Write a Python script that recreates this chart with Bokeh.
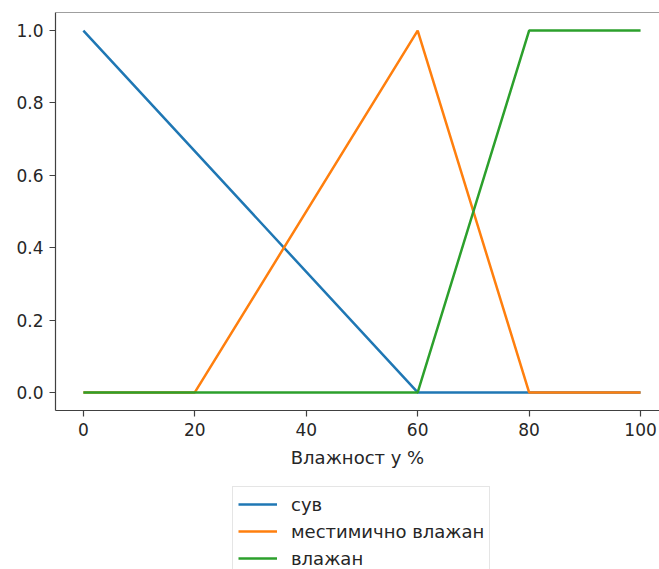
from bokeh.plotting import figure
from bokeh.layouts import column
from bokeh.models import Range1d, FixedTicker, NumeralTickFormatter, Span, Legend, LegendItem
from bokeh.embed import file_html
from bokeh.resources import INLINE

# membership functions (humidity %)
x_suv = [0, 60, 100]
y_suv = [1.0, 0.0, 0.0]
x_mest = [0, 20, 60, 80, 100]
y_mest = [0.0, 0.0, 1.0, 0.0, 0.0]
x_vlaz = [0, 60, 80, 100]
y_vlaz = [0.0, 0.0, 1.0, 1.0]
labels = ["сув", "местимично влажан", "влажан"]
x_ticks = [0, 20, 40, 60, 80, 100]
y_ticks = [0.0, 0.2, 0.4, 0.6, 0.8, 1.0]
colors = ["#1f77b4", "#ff7f0e", "#2ca02c"]
x_label = "Влажност у %"

FONT = "DejaVu Sans"
SPINE = "#404040"
TXT = "#262626"
LW = 2.5

p = figure(width=659, height=476, output_backend="svg", toolbar_location=None,
           x_range=Range1d(-5, 103.4), y_range=Range1d(-0.05, 1.05),
           min_border_left=55, min_border_right=0, min_border_top=12,
           min_border_bottom=66)
p.xgrid.visible = False
p.ygrid.visible = False
p.outline_line_color = None
p.background_fill_color = "white"
p.border_fill_color = "white"

p.line(x_suv, y_suv, line_color=colors[0], line_width=LW)
p.line(x_mest, y_mest, line_color=colors[1], line_width=LW)
p.line(x_vlaz, y_vlaz, line_color=colors[2], line_width=LW)

for ax in (p.xaxis[0], p.yaxis[0]):
    ax.axis_line_color = SPINE
    ax.axis_line_width = 1.2
    ax.major_tick_line_color = SPINE
    ax.major_tick_line_width = 1.2
    ax.major_tick_out = 6
    ax.major_tick_in = 0
    ax.minor_tick_line_color = None
    ax.major_label_text_font = FONT
    ax.major_label_text_font_size = "17px"
    ax.major_label_text_color = TXT
    ax.major_label_standoff = 6

p.xaxis.ticker = FixedTicker(ticks=x_ticks)
p.yaxis.ticker = FixedTicker(ticks=y_ticks)
p.yaxis.formatter = NumeralTickFormatter(format="0.0")
p.xaxis.axis_label = x_label
p.xaxis.axis_label_text_font = FONT
p.xaxis.axis_label_text_font_size = "18px"
p.xaxis.axis_label_text_font_style = "normal"
p.xaxis.axis_label_text_color = TXT
p.xaxis.axis_label_standoff = 8

p.add_layout(Span(location=1.05, dimension="width", line_color=SPINE, line_width=1.2))

# legend strip below the chart (dummy renderers lie outside its ranges)
q = figure(width=659, height=93, output_backend="svg", toolbar_location=None,
           x_range=Range1d(0, 1), y_range=Range1d(0, 1),
           min_border=0, x_axis_location=None, y_axis_location=None)
q.xgrid.visible = False
q.ygrid.visible = False
q.outline_line_color = None
q.border_fill_color = "white"
l1 = q.line(x=[5, 6], y=[5, 6], line_color=colors[0], line_width=LW)
l2 = q.line(x=[5, 6], y=[5, 6], line_color=colors[1], line_width=LW)
l3 = q.line(x=[5, 6], y=[5, 6], line_color=colors[2], line_width=LW)

legend = Legend(items=[LegendItem(label=labels[0], renderers=[l1]),
                       LegendItem(label=labels[1], renderers=[l2]),
                       LegendItem(label=labels[2], renderers=[l3])],
                location=(177, -7))
legend.label_text_font = FONT
legend.label_text_font_size = "18px"
legend.label_text_color = TXT
legend.glyph_width = 39
legend.glyph_height = 24
legend.label_height = 24
legend.spacing = 3
legend.padding = 5
legend.label_standoff = 14
legend.margin = 0
legend.border_line_color = "#cccccc"
legend.border_line_width = 1
legend.background_fill_alpha = 1
q.add_layout(legend, "center")

layout = column(p, q, spacing=0)
open("out.html", "w").write(file_html(layout, INLINE))
